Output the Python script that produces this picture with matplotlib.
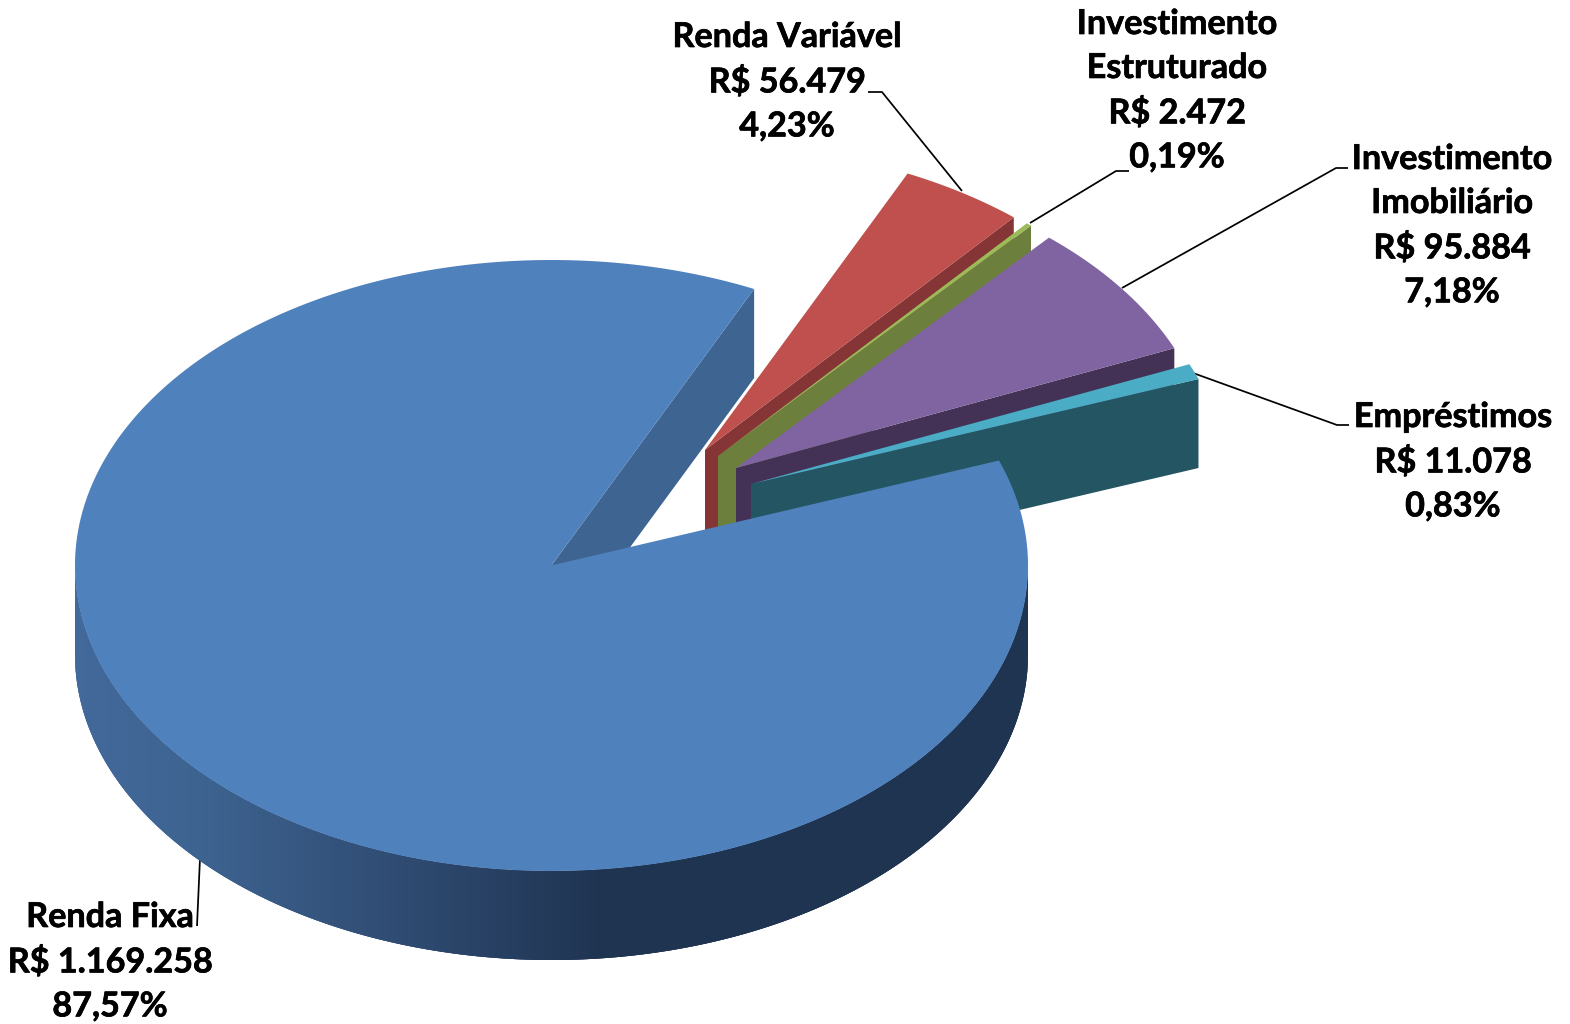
import numpy as np
import matplotlib
matplotlib.use("Agg")
import matplotlib.pyplot as plt
import matplotlib.patheffects as pe
from matplotlib.colors import to_rgb

# ---- data ----
names = ["Renda Fixa", "Renda Variável", "Investimento\nEstruturado", "Investimento\nImobiliário", "Empréstimos"]
values = [1169258, 56479, 2472, 95884, 11078]
value_labels = ["R$ 1.169.258", "R$ 56.479", "R$ 2.472", "R$ 95.884", "R$ 11.078"]
pct_labels = ["87,57%", "4,23%", "0,19%", "7,18%", "0,83%"]

# ---- style / layout ----
top_colors = ["#4F81BD", "#C0504D", "#9BBB59", "#8064A2", "#4BACC6"]
wall_colors = ["#3E6491", "#853535", "#6C7F3C", "#443256", "#245563"]
centers = [(551.5, 565.5), (705, 450), (718, 456), (736, 468), (751, 484)]
label_pos = [(110, 901), (787, 21), (1177, 8), (1452, 143), (1453, 401)]
leaders = [
    [(200, 858), (197, 926)],
    [(868, 92), (882, 92), (962, 191)],
    [(1129, 171), (1116, 171), (1030, 223)],
    [(1348, 168), (1336, 168), (1122, 288)],
    [(1349, 425), (1337, 425), (1193, 373)],
]
RX, RY, DEPTH = 476.5, 305.5, 89
START = 20.1

plt.rcParams["font.family"] = ["Lato", "DejaVu Sans"]
fig = plt.figure(figsize=(15.7, 10.24), dpi=100)
ax = fig.add_axes([0, 0, 1, 1])
ax.set_xlim(0, 1570)
ax.set_ylim(1024, 0)
ax.axis("off")

fracs = np.array(values, dtype=float) / sum(values) * 360
# clockwise from START: Renda Fixa first, then the remaining slices
ends = START - np.cumsum(fracs)
starts = ends + fracs


def rim(c, a0, a1, n=200):
    t = np.radians(np.linspace(a0, a1, n))
    return c[0] + RX * np.cos(t), c[1] - RY * np.sin(t)


def top_face(i):
    x, y = rim(centers[i], starts[i], ends[i], max(int(abs(fracs[i])) * 2, 8))
    return np.r_[centers[i][0], x], np.r_[centers[i][1], y]


# leaders go below the pie
for pts in leaders:
    p = np.array(pts)
    ax.plot(p[:, 0], p[:, 1], color="black", lw=1.25, zorder=1, solid_capstyle="butt")

# Renda Fixa inner wall (the cut edge at its clockwise end)
c = centers[0]
xe, ye = rim(c, ends[0], ends[0], 1)
ax.fill([c[0], xe[0], xe[0], c[0]], [c[1], ye[0], ye[0] + DEPTH, c[1] + DEPTH],
        color=wall_colors[0], lw=0, zorder=2)

# exploded slices, back to front
for i in range(1, len(values)):
    c = centers[i]
    xe, ye = rim(c, ends[i], ends[i], 1)
    ax.fill([c[0], xe[0], xe[0], c[0]], [c[1], ye[0], ye[0] + DEPTH, c[1] + DEPTH],
            color=wall_colors[i], lw=0, zorder=2 + i)
    fx, fy = top_face(i)
    ax.fill(fx, fy, color=top_colors[i], lw=0, zorder=2 + i)

# Renda Fixa outer wall with horizontal shading (overlapping strips hide seams)
grad_x = [75, 200, 400, 600, 1030]
grad_c = np.array([to_rgb(s) for s in ["#42699B", "#3D6390", "#2F4B72", "#1F3451", "#1F3451"]])
c = centers[0]
edges = np.arange(180, 360.01, 0.4)
for a0 in edges[:-1]:
    x, y = rim(c, a0, min(a0 + 1.2, 360), 5)
    xm = x[:2].mean()
    col = [np.interp(xm, grad_x, grad_c[:, k]) for k in range(3)]
    ax.fill(np.r_[x, x[::-1]], np.r_[y, y[::-1] + DEPTH], color=col, lw=0, zorder=10)

# Renda Fixa top
fx, fy = top_face(0)
ax.fill(fx, fy, color=top_colors[0], lw=0, zorder=11)

# labels
for n, v, p, (x, y) in zip(names, value_labels, pct_labels, label_pos):
    t = ax.text(x, y, f"{n}\n{v}\n{p}", ha="center", va="top", fontsize=24.6, fontweight="bold",
                color="black", linespacing=1.46, zorder=20)
    t.set_path_effects([pe.withStroke(linewidth=0.5, foreground="black")])

fig.savefig("out.png", dpi=100, facecolor="white")
